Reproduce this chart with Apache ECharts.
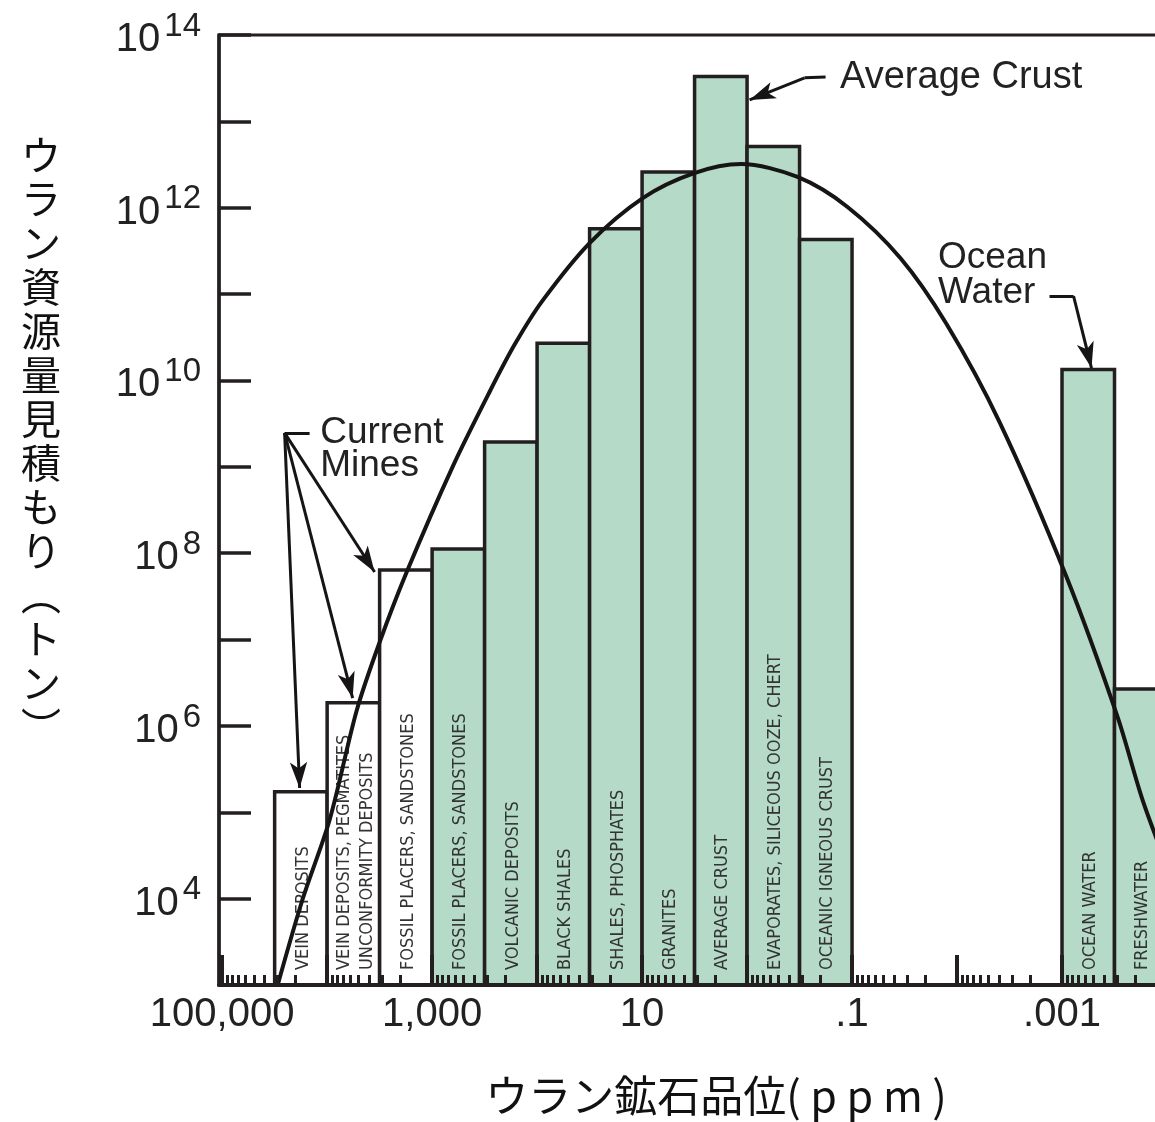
<!DOCTYPE html>
<html>
<head>
<meta charset="utf-8">
<script src="https://cdn.jsdelivr.net/npm/echarts@6/dist/echarts.min.js"></script>
<style>
html,body{margin:0;padding:0;background:#ffffff;}
#chart{width:1155px;height:1122px;}
</style>
</head>
<body>
<div id="chart"></div>
<script>
// ---------------- DATA ----------------
// Deposit / material types (bar labels)
const categories = [
  'VEIN DEPOSITS',
  'VEIN DEPOSITS, PEGMATITES\nUNCONFORMITY DEPOSITS',
  'FOSSIL PLACERS, SANDSTONES',
  'FOSSIL PLACERS, SANDSTONES',
  'VOLCANIC DEPOSITS',
  'BLACK SHALES',
  'SHALES, PHOSPHATES',
  'GRANITES',
  'AVERAGE CRUST',
  'EVAPORATES, SILICEOUS OOZE, CHERT',
  'OCEANIC IGNEOUS CRUST',
  'OCEAN WATER',
  'FRESHWATER'
];
// grade range of each bar, log10(ppm)
const gradeLogHigh = [4.5, 4.0, 3.5, 3.0, 2.5, 2.0, 1.5, 1.0, 0.5, 0.0, -0.5, -3.0, -3.5];
const gradeLogLow  = [4.0, 3.5, 3.0, 2.5, 2.0, 1.5, 1.0, 0.5, 0.0, -0.5, -1.0, -3.5, -4.0];
// estimated uranium resource (tonnes)
const resourceTons = [1.73e5, 1.86e6, 6.4e7, 1.12e8, 1.94e9, 2.7e10, 5.7e11, 2.6e12, 3.3e13, 5.1e12, 4.3e11, 1.34e10, 2.67e6];
// currently mined types (drawn white)
const currentlyMined = [true, true, true, false, false, false, false, false, false, false, false, false, false];

// smooth distribution curve
const curveGradeLog = [4.471, 4.233, 3.976, 3.719, 3.500, 3.243, 2.805, 2.452, 2.214, 1.948, 1.500, 0.990, 0.510, 0.056, -0.481, -0.957, -1.462, -1.900, -2.405, -3.043, -3.529, -3.767, -4.005];
const curveTons     = [1.0e3, 9.9e3, 8.2e4, 1.5e6, 9.3e6, 6.0e7, 1.0e9, 7.4e9, 2.6e10, 8.4e10, 3.9e11, 1.3e12, 2.5e12, 3.2e12, 2.27e12, 1.02e12, 2.6e11, 4.5e10, 3.3e9, 5.3e7, 1.27e6, 1.39e5, 2.3e4];

// tick labels
const xTickGradesLog = [5, 3, 1, -1, -3];
const xTickLabels = ['100,000', '1,000', '10', '.1', '.001'];
const yLabelExponents = [4, 6, 8, 10, 12, 14];

// ---------------- STYLE / LAYOUT ----------------
const INK = '#231f20';
const GREEN = '#b5dbc8';
const LATIN = '"Liberation Sans", Arial, Helvetica, sans-serif';
const NARROW = '"Liberation Sans Narrow", "Arial Narrow", "DejaVu Sans Condensed", sans-serif';
const CJK = '"Noto Sans CJK JP", "Noto Sans CJK SC", sans-serif';
const X_MIN = -4, X_MAX = 5.03, Y_MIN = 1e3, Y_MAX = 1e14;

// axis tick positions (decades and 2..9 sub-decades on the log-grade axis)
const decadeTicks = [];
const minorTicks = [];
for (let d = -4; d <= 5; d++) {
  decadeTicks.push(d);
  if (d < 5) for (let k = 2; k <= 9; k++) minorTicks.push(d + Math.log10(k));
}

const chart = echarts.init(document.getElementById('chart'), null, {renderer: 'canvas'});

const barData = categories.map((c, i) => [gradeLogHigh[i], gradeLogLow[i], resourceTons[i], i]);
const curveData = curveGradeLog.map((g, i) => [g, curveTons[i]]);

function arrowLine(a, b, arrow) {
  return [
    {coord: a, symbol: 'none'},
    {coord: b, symbol: arrow ? 'arrow' : 'none', symbolSize: [13, 26]}
  ];
}

const option = {
  animation: false,
  backgroundColor: '#ffffff',
  grid: {
    left: 219, width: 948, top: 35, height: 950,
    outerBoundsMode: 'none', containLabel: false,
    show: true, borderColor: INK, borderWidth: 3, backgroundColor: 'transparent'
  },
  xAxis: [
    {
      type: 'value', min: X_MIN, max: X_MAX, inverse: true, position: 'bottom', z: 10,
      axisLine: {show: true, onZero: false, lineStyle: {color: INK, width: 4}},
      axisTick: {show: true, inside: true, length: 30, lineStyle: {color: INK, width: 4}, customValues: decadeTicks},
      axisLabel: {
        show: true, customValues: xTickGradesLog, margin: 10,
        fontSize: 40, fontFamily: LATIN, color: '#222', lineHeight: 40,
        formatter: function (v) { const i = xTickGradesLog.indexOf(Math.round(v)); return i >= 0 ? xTickLabels[i] : ''; }
      },
      splitLine: {show: false}
    },
    {
      type: 'value', min: X_MIN, max: X_MAX, inverse: true, position: 'bottom', z: 10,
      axisLine: {show: false, onZero: false},
      axisTick: {show: true, inside: true, length: 10, lineStyle: {color: INK, width: 3}, customValues: minorTicks},
      axisLabel: {show: false},
      splitLine: {show: false}
    }
  ],
  yAxis: {
    type: 'log', logBase: 10, min: Y_MIN, max: Y_MAX, interval: 1, z: 10, position: 'left',
    axisLine: {show: true, onZero: false, lineStyle: {color: INK, width: 3.5}},
    axisTick: {show: true, inside: true, length: 32, lineStyle: {color: INK, width: 3.5}},
    splitLine: {show: false},
    axisLabel: {
      show: true, margin: 18, showMinLabel: true, showMaxLabel: true, padding: [10, 0, 0, 0],
      formatter: function (v) {
        const e = Math.round(Math.log10(v));
        return yLabelExponents.indexOf(e) >= 0 ? '{b|10}{s|' + e + '}' : '';
      },
      rich: {
        b: {fontSize: 40, fontFamily: LATIN, color: '#222', lineHeight: 40, verticalAlign: 'bottom'},
        s: {fontSize: 33, fontFamily: LATIN, color: '#222', lineHeight: 33, padding: [0, 0, 17, 4], verticalAlign: 'bottom'}
      }
    }
  },
  series: [
    {
      type: 'custom', name: 'resources', xAxisIndex: 0, yAxisIndex: 0, z: 2,
      encode: {x: [0, 1], y: 2},
      data: barData,
      renderItem: function (params, api) {
        const i = api.value(3);
        const pTop = api.coord([api.value(0), api.value(2)]);
        const pBot = api.coord([api.value(1), Y_MIN]);
        const left = Math.min(pTop[0], pBot[0]);
        const right = Math.max(pTop[0], pBot[0]);
        return {
          type: 'group',
          children: [
            {
              type: 'rect',
              shape: {x: left, y: pTop[1], width: right - left, height: pBot[1] - pTop[1]},
              style: {fill: currentlyMined[i] ? '#ffffff' : GREEN, stroke: INK, lineWidth: 3.5}
            },
            {
              type: 'text',
              x: (left + right) / 2 + 2, y: pBot[1] - 15, rotation: Math.PI / 2,
              style: {
                text: categories[i], fill: '#333', fontSize: 18, fontFamily: NARROW,
                align: 'left', verticalAlign: 'middle', lineHeight: 23
              }
            }
          ]
        };
      }
    },
    {
      type: 'line', name: 'curve', xAxisIndex: 0, yAxisIndex: 0, z: 4,
      data: curveData, smooth: 0.3, showSymbol: false, symbol: 'none',
      lineStyle: {color: '#161414', width: 4},
      markLine: {
        silent: true, animation: false,
        label: {show: false},
        lineStyle: {color: '#161414', width: 3, type: 'solid'},
        emphasis: {disabled: true},
        data: [
          arrowLine([4.405, 2.47e9], [4.167, 2.47e9], false),
          arrowLine([4.405, 2.47e9], [3.548, 6.05e7], true),
          arrowLine([4.405, 2.47e9], [3.757, 2.1e6], true),
          arrowLine([4.405, 2.47e9], [4.262, 1.91e5], true),
          arrowLine([-0.748, 3.27e13], [-0.548, 3.19e13], false),
          arrowLine([-0.548, 3.19e13], [-0.024, 1.77e13], true),
          arrowLine([-2.881, 9.5e10], [-3.110, 9.5e10], false),
          arrowLine([-3.110, 9.5e10], [-3.281, 1.39e10], true)
        ]
      },
      markPoint: {
        silent: true, animation: false,
        symbol: 'rect', symbolSize: 1, itemStyle: {color: 'rgba(0,0,0,0)'},
        label: {
          show: true, position: 'right', distance: 0, align: 'left', verticalAlign: 'middle',
          fontSize: 37, fontFamily: LATIN, color: '#222', lineHeight: 33
        },
        data: [
          {coord: [4.071, 1.61e9], label: {formatter: 'Current\nMines'}},
          {coord: [-0.881, 3.18e13], label: {formatter: 'Average Crust', fontSize: 38}},
          {coord: [-1.814, 1.66e11], label: {formatter: 'Ocean\nWater', lineHeight: 35}}
        ]
      }
    }
  ],
  graphic: [
    {
      type: 'text', x: 41, y: 133, silent: true,
      style: {
        text: 'ウラン資源量見積もり︵トン︶'.split('').join('\n'),
        fontSize: 40, fontFamily: CJK, fill: '#111', align: 'center', verticalAlign: 'top', lineHeight: 44
      }
    },
    {
      type: 'text', x: 716, y: 1096, silent: true,
      style: {
        text: 'ウラン鉱石品位( p p m )',
        fontSize: 43, fontFamily: CJK, fill: '#111', align: 'center', verticalAlign: 'middle'
      }
    }
  ]
};

chart.setOption(option);
</script>
</body>
</html>
